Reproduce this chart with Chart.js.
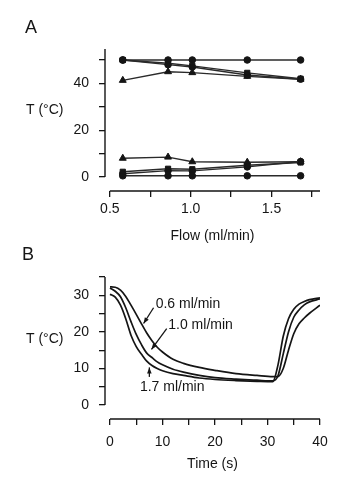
<!DOCTYPE html>
<html>
<head>
<meta charset="utf-8">
<script src="https://cdn.jsdelivr.net/npm/chart.js@4/dist/chart.umd.min.js"></script>
<style>
  body { margin: 0; background: #fff; }
  canvas { position: absolute; left: 0; }
  #graphA { top: 0; }
  #graphB { top: 240px; }
</style>
</head>
<body>
<canvas id="graphA" width="353" height="250"></canvas>
<canvas id="graphB" width="353" height="260"></canvas>
<script>
// Panel A : température en fonction du débit
const flow = [0.58, 0.86, 1.01, 1.35, 1.68];
const hiFlat = [50, 50, 50, 50, 50];
const hiSquare = [50, 48.6, 47.5, 44.5, 42];
const hiCircle = [50, 48, 47, 43.6, 41.8];
const hiTriangle = [41.3, 45, 44.6, 43, 41.8];
const loTriangle = [8, 8.5, 6.5, 6.3, 6.5];
const loSquare = [2.2, 3.5, 3.3, 5, 6.2];
const loCircle = [1.4, 2.7, 2.6, 4.3, 6.6];
const loFlat = [0.5, 0.5, 0.5, 0.5, 0.5];
const flowTicks = [0.5, 0.75, 1.0, 1.25, 1.5, 1.75];
const tempTicksA = [0, 10, 20, 30, 40, 50];

// Panel B : température en fonction du temps
const time = [0, 1, 2, 3, 4, 5, 6, 7, 8, 9, 10, 12, 14, 17, 20, 24, 28, 31, 32, 33, 34, 35, 36, 37, 38, 40];
const flow06 = [32.3, 32.2, 31.4, 29.7, 27.3, 24.8, 22.2, 19.7, 17.6, 15.8, 14.5, 12.5, 11.4, 10.3, 9.5, 8.6, 8.1, 7.8, 7.8, 10, 15, 19.5, 22.2, 23.8, 25.1, 27.3];
const flow10 = [32, 31.1, 29.6, 26.6, 22.8, 19.3, 16.5, 14.2, 13, 11.8, 11, 9.8, 9.0, 8.1, 7.5, 7.1, 6.8, 6.6, 8, 14, 20, 24, 26, 27.4, 28.2, 29];
const flow17 = [30.3, 29.5, 27.3, 23.6, 19.1, 16, 13.9, 12, 10.8, 10, 9.4, 8.6, 8.1, 7.4, 7.0, 6.7, 6.5, 6.4, 11, 18.8, 23.6, 26.2, 27.6, 28.3, 28.8, 29.3];
const timeTicks = [0, 5, 10, 15, 20, 25, 30, 35, 40];
const tempTicksB = [0, 5, 10, 15, 20, 25, 30, 35];

const police = '"Liberation Sans", Arial, sans-serif';
Chart.defaults.font.family = police;
Chart.defaults.font.size = 14;
Chart.defaults.color = '#151515';

const ink = '#151515';

function serie(xs, ys, style, radius) {
    return {
        data: xs.map((x, i) => ({ x: x, y: ys[i] })),
        borderColor: '#2a2a2a',
        borderWidth: 1.4,
        backgroundColor: ink,
        pointBorderColor: ink,
        pointStyle: style,
        pointRadius: radius,
        pointBorderWidth: 1
    };
}

function courbe(ys) {
    return {
        data: time.map((t, i) => ({ x: t, y: ys[i] })),
        borderColor: ink,
        borderWidth: 1.7,
        pointRadius: 0,
        cubicInterpolationMode: 'monotone'
    };
}

// Axes décalés + textes libres
const axesPlugin = {
    id: 'axes',
    afterDraw(chart, args, opts) {
        const { ctx, chartArea, scales: { x, y } } = chart;
        ctx.save();
        ctx.strokeStyle = ink;
        ctx.lineWidth = 1.4;
        ctx.beginPath();
        ctx.moveTo(chartArea.left, y.getPixelForValue(opts.yFrom));
        ctx.lineTo(chartArea.left, chartArea.top);
        ctx.moveTo(x.getPixelForValue(opts.xFrom), chartArea.bottom);
        ctx.lineTo(x.getPixelForValue(opts.xTo), chartArea.bottom);
        ctx.stroke();

        ctx.fillStyle = ink;
        ctx.textBaseline = 'middle';
        ctx.textAlign = 'left';
        ctx.font = '18px ' + police;
        ctx.fillText(opts.letter, opts.letterX, opts.letterY);
        ctx.font = '14px ' + police;
        ctx.fillText('T (°C)', 26, opts.titleY);

        (opts.notes || []).forEach(n => {
            ctx.fillText(n.text, x.getPixelForValue(n.tx), y.getPixelForValue(n.ty));
            const x1 = x.getPixelForValue(n.from[0]), y1 = y.getPixelForValue(n.from[1]);
            const x2 = x.getPixelForValue(n.to[0]), y2 = y.getPixelForValue(n.to[1]);
            ctx.lineWidth = 1.3;
            ctx.beginPath();
            ctx.moveTo(x1, y1);
            ctx.lineTo(x2, y2);
            ctx.stroke();
            const a = Math.atan2(y2 - y1, x2 - x1);
            ctx.beginPath();
            ctx.moveTo(x2, y2);
            ctx.lineTo(x2 - 6 * Math.cos(a) + 2.3 * Math.sin(a), y2 - 6 * Math.sin(a) - 2.3 * Math.cos(a));
            ctx.lineTo(x2 - 6 * Math.cos(a) - 2.3 * Math.sin(a), y2 - 6 * Math.sin(a) + 2.3 * Math.cos(a));
            ctx.closePath();
            ctx.fill();
        });
        ctx.restore();
    }
};

const tickGrid = { drawOnChartArea: false, drawTicks: true, tickLength: 6, color: ink, lineWidth: 1.3 };

new Chart(document.getElementById('graphA').getContext('2d'), {
    type: 'line',
    data: {
        datasets: [
            serie(flow, hiFlat, 'circle', 3.3),
            serie(flow, hiSquare, 'rect', 3.7),
            serie(flow, hiCircle, 'circle', 3.3),
            serie(flow, hiTriangle, 'triangle', 4),
            serie(flow, loTriangle, 'triangle', 4),
            serie(flow, loSquare, 'rect', 3.7),
            serie(flow, loCircle, 'circle', 3.3),
            serie(flow, loFlat, 'circle', 3.3)
        ]
    },
    options: {
        responsive: false,
        animation: false,
        layout: { padding: { top: 49, right: 33, left: 0, bottom: 0 } },
        scales: {
            x: {
                type: 'linear', min: 0.47, max: 1.8,
                afterBuildTicks: s => { s.ticks = flowTicks.map(v => ({ value: v })); },
                afterFit: s => { s.height = 59; },
                ticks: {
                    autoSkip: false, maxRotation: 0, padding: 4,
                    callback: v => (Math.abs(v * 2 - Math.round(v * 2)) < 1e-6 ? v.toFixed(1) : '')
                },
                grid: tickGrid,
                border: { display: false },
                title: { display: true, text: 'Flow (ml/min)', padding: { top: 0, bottom: 5 } }
            },
            y: {
                min: -6, max: 54.7,
                afterBuildTicks: s => { s.ticks = tempTicksA.map(v => ({ value: v })); },
                afterFit: s => { s.width = 105; },
                ticks: { autoSkip: false, padding: 10, callback: v => (v % 20 === 0 ? v : '') },
                grid: tickGrid,
                border: { display: false }
            }
        },
        plugins: {
            legend: { display: false },
            tooltip: { enabled: false },
            axes: { yFrom: 0, xFrom: 0.5, xTo: 1.8, letter: 'A', letterX: 25, letterY: 28, titleY: 110 }
        }
    },
    plugins: [axesPlugin]
});

new Chart(document.getElementById('graphB').getContext('2d'), {
    type: 'line',
    data: {
        datasets: [courbe(flow06), courbe(flow10), courbe(flow17)]
    },
    options: {
        responsive: false,
        animation: false,
        layout: { padding: { top: 37, right: 33, left: 0, bottom: 0 } },
        scales: {
            x: {
                type: 'linear', min: -0.95, max: 40,
                afterBuildTicks: s => { s.ticks = timeTicks.map(v => ({ value: v })); },
                afterFit: s => { s.height = 81; },
                ticks: { autoSkip: false, maxRotation: 0, padding: 9, callback: v => (v % 10 === 0 ? v : '') },
                grid: tickGrid,
                border: { display: false },
                title: { display: true, text: 'Time (s)', padding: { top: 0, bottom: 27 } }
            },
            y: {
                min: -3.8, max: 35,
                afterBuildTicks: s => { s.ticks = tempTicksB.map(v => ({ value: v })); },
                afterFit: s => { s.width = 105; },
                ticks: { autoSkip: false, padding: 10, callback: v => (v % 10 === 0 ? v : '') },
                grid: tickGrid,
                border: { display: false }
            }
        },
        plugins: {
            legend: { display: false },
            tooltip: { enabled: false },
            axes: {
                yFrom: 0, xFrom: 0, xTo: 40, letter: 'B', letterX: 22, letterY: 15, titleY: 99,
                notes: [
                    { text: '0.6 ml/min', tx: 8.7, ty: 27.5, from: [8.3, 26.6], to: [6.4, 22.3] },
                    { text: '1.0 ml/min', tx: 11.1, ty: 21.8, from: [10.8, 20.9], to: [7.9, 15.2] },
                    { text: '1.7 ml/min', tx: 5.7, ty: 5, from: [7.5, 7.7], to: [7.5, 10.3] }
                ]
            }
        }
    },
    plugins: [axesPlugin]
});
</script>
</body>
</html>
